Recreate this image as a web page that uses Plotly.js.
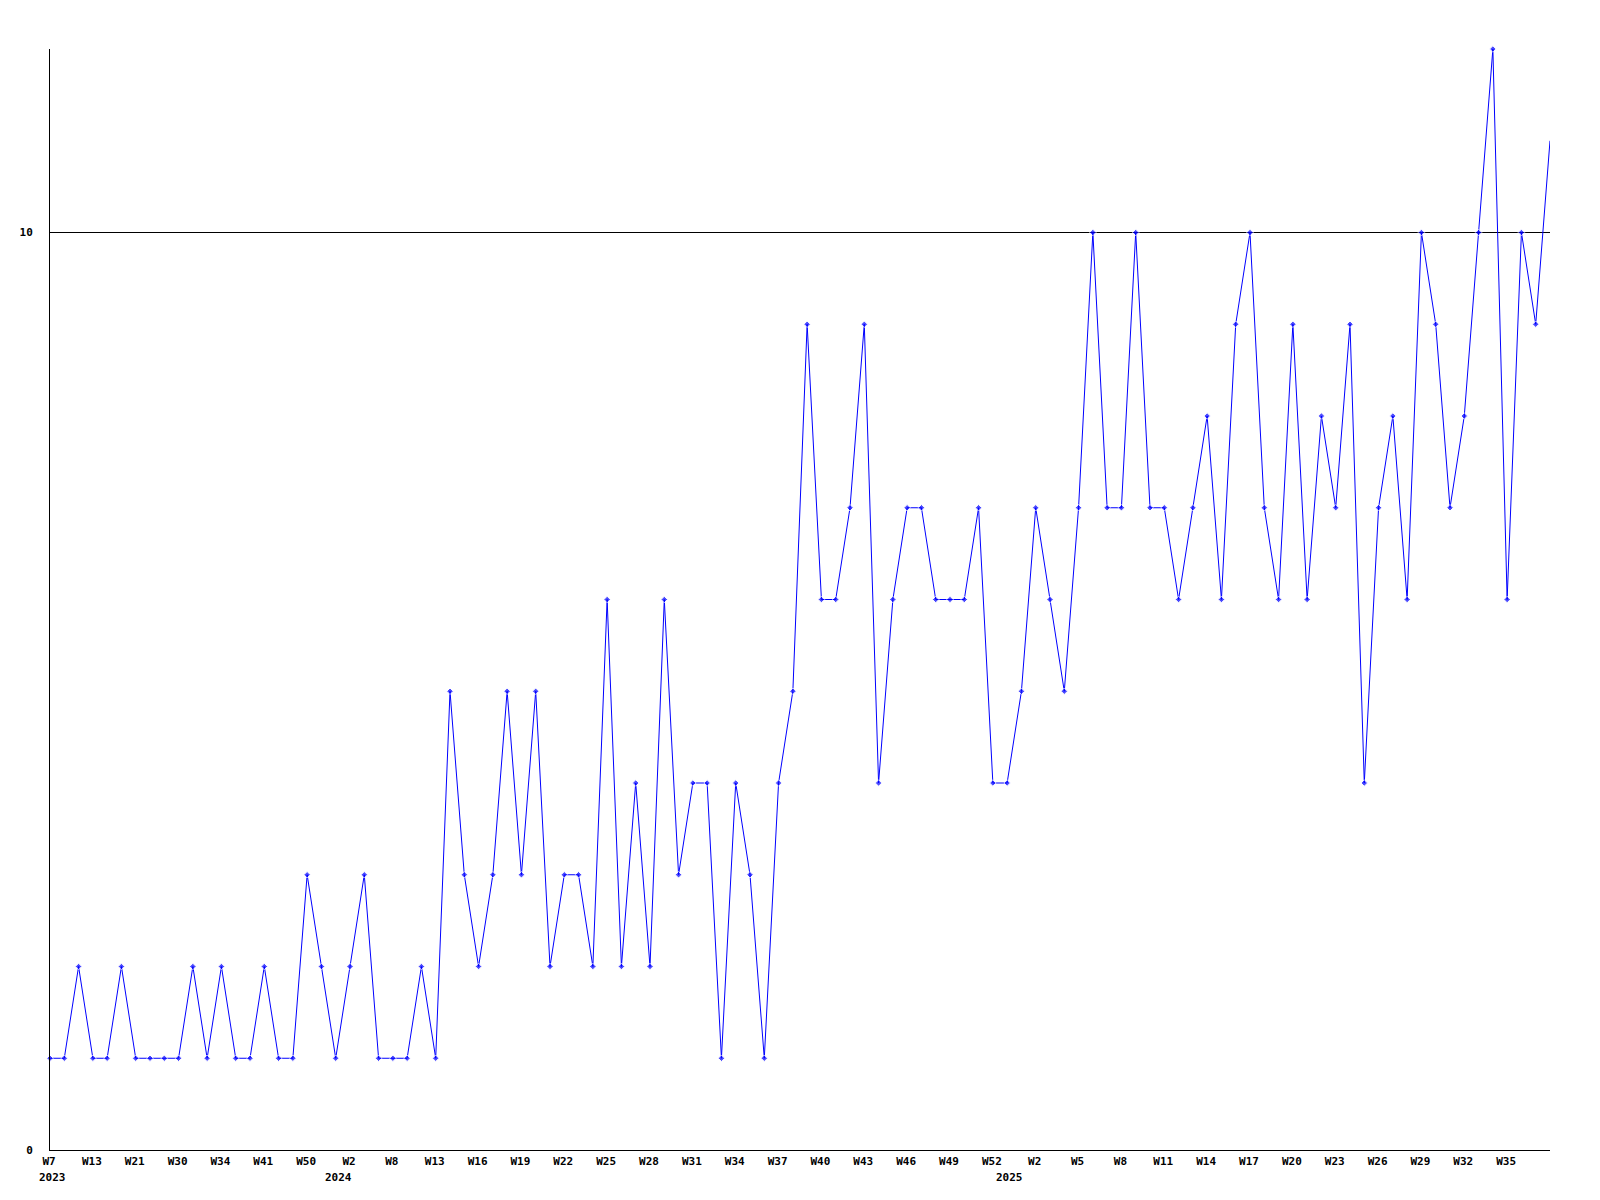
<!DOCTYPE html>
<html>
<head>
<meta charset="utf-8">
<script src="https://cdn.plot.ly/plotly-3.0.1.min.js"></script>
<style>
  html, body { margin: 0; padding: 0; background: #ffffff; }
  #chart { width: 1600px; height: 1200px; }
</style>
</head>
<body>
<div id="chart"></div>
<script>
// Weekly values, one per point in order (106 points)
const values = [
  1, 1, 2, 1, 1, 2, 1, 1, 1, 1,
  2, 1, 2, 1, 1, 2, 1, 1, 3, 2,
  1, 2, 3, 1, 1, 1, 2, 1, 5, 3,
  2, 3, 5, 3, 5, 2, 3, 3, 2, 6,
  2, 4, 2, 6, 3, 4, 4, 1, 4, 3,
  1, 4, 5, 9, 6, 6, 7, 9, 4, 6,
  7, 7, 6, 6, 6, 7, 4, 4, 5, 7,
  6, 5, 7, 10, 7, 7, 10, 7, 7, 6,
  7, 8, 6, 9, 10, 7, 6, 9, 6, 8,
  7, 9, 4, 7, 8, 6, 10, 9, 7, 8,
  10, 12, 6, 10, 9, 11
];

// Labeled points (index in the series) and their week labels
const weekTickIndex = [0, 3, 6, 9, 12, 15, 18, 21, 24, 27, 30, 33, 36, 39, 42, 45, 48, 51,
  54, 57, 60, 63, 66, 69, 72, 75, 78, 81, 84, 87, 90, 93, 96, 99, 102];
const weekTickText = ["W7", "W13", "W21", "W30", "W34", "W41", "W50", "W2", "W8", "W13",
  "W16", "W19", "W22", "W25", "W28", "W31", "W34", "W37", "W40", "W43", "W46", "W49",
  "W52", "W2", "W5", "W8", "W11", "W14", "W17", "W20", "W23", "W26", "W29", "W32", "W35"];

// Year labels and the point where each year starts
const yearIndex = [0, 20, 67];
const yearText = ["2023", "2024", "2025"];

const yTickVals = [0, 10];
const yTickText = ["0", "10"];

const xs = values.map((v, i) => i);
const markerSizes = values.map((v, i) => (i === values.length - 1 ? 0 : 5));

const font = { family: "DejaVu Sans Mono, Liberation Mono, monospace", size: 11, color: "#000000", weight: "bold" };

const trace = {
  type: "scatter",
  mode: "lines+markers",
  x: xs,
  y: values,
  line: { color: "#0000ff", width: 1 },
  marker: { color: "#0000ff", size: markerSizes, symbol: "diamond" },
  hoverinfo: "skip",
  cliponaxis: false
};

const annotations = yearText.map((t, k) => ({
  x: yearIndex[k],
  y: 0,
  xref: "x",
  yref: "y",
  text: t,
  showarrow: false,
  xanchor: "left",
  yanchor: "middle",
  xshift: -13,
  yshift: -27,
  font: font
}));

const layout = {
  width: 1600,
  height: 1200,
  margin: { l: 50, r: 50, t: 49, b: 50, pad: 0 },
  paper_bgcolor: "#ffffff",
  plot_bgcolor: "#ffffff",
  showlegend: false,
  font: font,
  xaxis: {
    range: [0, 105],
    tickmode: "array",
    tickvals: weekTickIndex,
    ticktext: weekTickText,
    tickangle: 0,
    showgrid: false,
    zeroline: false,
    showline: true,
    linecolor: "#000000",
    linewidth: 1,
    ticks: "",
    tickfont: font,
    ticklabelshift: -1,
    ticklabelstandoff: 1,
    fixedrange: true
  },
  yaxis: {
    range: [0, 12],
    tickmode: "array",
    tickvals: yTickVals,
    ticktext: yTickText,
    showgrid: true,
    gridcolor: "#000000",
    gridwidth: 1,
    zeroline: false,
    showline: true,
    linecolor: "#000000",
    linewidth: 1,
    ticks: "",
    ticklabelstandoff: 14,
    tickfont: font,
    fixedrange: true
  },
  annotations: annotations
};

Plotly.newPlot("chart", [trace], layout, { displayModeBar: false, staticPlot: true });
</script>
</body>
</html>
